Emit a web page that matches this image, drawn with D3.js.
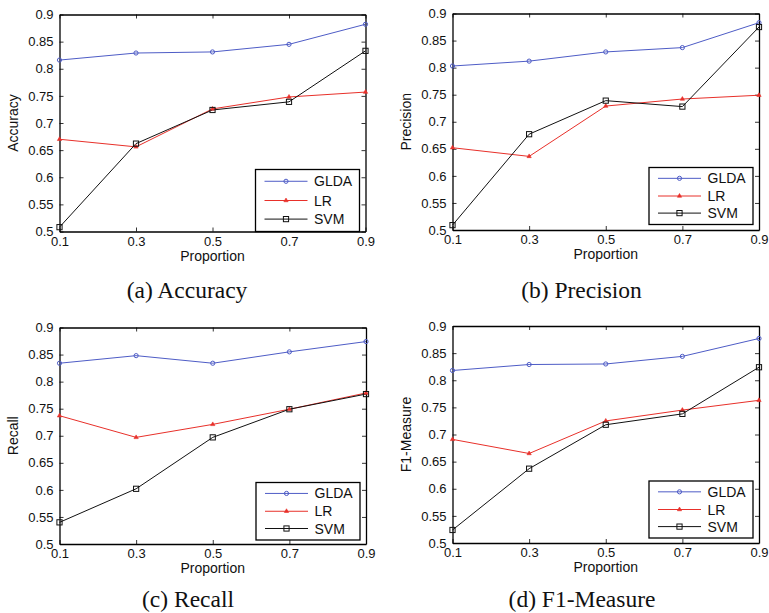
<!DOCTYPE html>
<html><head><meta charset="utf-8">
<script src="https://cdn.jsdelivr.net/npm/d3@7"></script>
<style>
body{margin:0;background:#fff;}
svg{display:block;}
.tick text{font-family:"Liberation Sans",Arial,sans-serif;font-size:13px;fill:#111;}
</style></head>
<body><svg id="c" width="769" height="613"></svg>
<script>
// ---- data ----
const proportions = [0.1, 0.3, 0.5, 0.7, 0.9];
const yTicks = [0.5, 0.55, 0.6, 0.65, 0.7, 0.75, 0.8, 0.85, 0.9];
const seriesNames = ["GLDA", "LR", "SVM"];
const metricNames = ["Accuracy", "Precision", "Recall", "F1-Measure"];
const captions = ["(a) Accuracy", "(b) Precision", "(c) Recall", "(d) F1-Measure"];
// rows: Accuracy, Precision, Recall, F1-Measure
const gldaValues = [
  [0.816, 0.829, 0.831, 0.845, 0.882],
  [0.803, 0.812, 0.829, 0.837, 0.883],
  [0.834, 0.848, 0.834, 0.855, 0.874],
  [0.818, 0.829, 0.830, 0.844, 0.877]
];
const lrValues = [
  [0.670, 0.656, 0.726, 0.748, 0.757],
  [0.652, 0.636, 0.729, 0.742, 0.749],
  [0.737, 0.697, 0.721, 0.749, 0.779],
  [0.691, 0.665, 0.725, 0.745, 0.763]
];
const svmValues = [
  [0.508, 0.662, 0.724, 0.739, 0.833],
  [0.509, 0.677, 0.739, 0.728, 0.875],
  [0.540, 0.602, 0.697, 0.749, 0.777],
  [0.524, 0.637, 0.718, 0.738, 0.824]
];

// ---- layout / style ----
const layout = [
  {left:59.5, right:365.5, top:14.5, bottom:231.5, legTop:169.5, legBottom:231.5, capX:187, capY:297.5},
  {left:452.5, right:759, top:13.5, bottom:230, legTop:167.5, legBottom:224.5, capX:581.5, capY:297.5},
  {left:59.5, right:366, top:327.5, bottom:544, legTop:482.5, legBottom:540, capX:188, capY:607},
  {left:452.5, right:759, top:326, bottom:543, legTop:481, legBottom:538, capX:582, capY:607}
];
const colors = {GLDA:"#4e5cc6", LR:"#e8302a", SVM:"#111111"};
const sans = '"Liberation Sans", Arial, sans-serif';
const serif = '"Liberation Serif", "Times New Roman", serif';

const svg = d3.select("#c");

function drawMarker(g, name, x, y) {
  const c = colors[name];
  if (name === "GLDA") {
    g.append("circle").attr("cx", x).attr("cy", y).attr("r", 2.1)
      .attr("fill", "none").attr("stroke", c).attr("stroke-width", 1);
  } else if (name === "LR") {
    g.append("path").attr("d", d3.symbol(d3.symbolTriangle, 8)())
      .attr("transform", `translate(${x},${y})`).attr("fill", c).attr("stroke", c).attr("stroke-width", 0.6);
  } else {
    g.append("rect").attr("x", x - 2.6).attr("y", y - 2.6).attr("width", 5.2).attr("height", 5.2)
      .attr("fill", "none").attr("stroke", c).attr("stroke-width", 1);
  }
}

metricNames.forEach((metric, i) => {
  const L = layout[i];
  const x = d3.scaleLinear().domain([0.1, 0.9]).range([L.left, L.right]);
  const y = d3.scaleLinear().domain([0.5, 0.9]).range([L.bottom, L.top]);
  const g = svg.append("g");

  const fmt = d => String(d);
  // axes (inward ticks, MATLAB box)
  g.append("g").attr("transform", `translate(${L.left},0)`)
    .call(d3.axisLeft(y).tickValues(yTicks).tickFormat(fmt).tickSizeInner(-4).tickSizeOuter(0).tickPadding(6));
  g.append("g").attr("transform", `translate(${L.right},0)`)
    .call(d3.axisRight(y).tickValues(yTicks).tickFormat("").tickSizeInner(-4).tickSizeOuter(0));
  g.append("g").attr("transform", `translate(0,${L.bottom})`)
    .call(d3.axisBottom(x).tickValues(proportions).tickFormat(fmt).tickSizeInner(-4).tickSizeOuter(0).tickPadding(5));
  g.append("g").attr("transform", `translate(0,${L.top})`)
    .call(d3.axisTop(x).tickValues(proportions).tickFormat("").tickSizeInner(-4).tickSizeOuter(0));
  g.selectAll(".domain").attr("stroke", "#000").attr("stroke-width", 1.3);
  g.selectAll(".tick line").attr("stroke", "#000").attr("stroke-width", 0.8);

  // axis titles
  g.append("text").attr("x", (L.left + L.right) / 2).attr("y", L.bottom + 29)
    .attr("text-anchor", "middle").attr("font-family", sans).attr("font-size", 14).attr("fill", "#111")
    .text("Proportion");
  g.append("text")
    .attr("transform", `translate(${L.left - 47},${(L.top + L.bottom) / 2}) rotate(-90)`)
    .attr("dy", "0.36em")
    .attr("text-anchor", "middle").attr("font-family", sans).attr("font-size", 14).attr("fill", "#111")
    .text(metric);

  // series
  const seriesData = {GLDA: gldaValues[i], LR: lrValues[i], SVM: svmValues[i]};
  const line = d3.line().x((d, k) => x(proportions[k])).y(d => y(d));
  seriesNames.forEach(name => {
    g.append("path").datum(seriesData[name]).attr("d", line)
      .attr("fill", "none").attr("stroke", colors[name]).attr("stroke-width", 1);
  });
  seriesNames.forEach(name => {
    seriesData[name].forEach((v, k) => drawMarker(g, name, x(proportions[k]), y(v)));
  });

  // legend
  const lw = 104, lx = L.right - 6 - lw, ly = L.legTop, lh = L.legBottom - L.legTop;
  g.append("rect").attr("x", lx).attr("y", ly).attr("width", lw).attr("height", lh)
    .attr("fill", "#fff").attr("stroke", "#000").attr("stroke-width", 1.3);
  const fr = [0.19, 0.5, 0.8];
  seriesNames.forEach((name, k) => {
    const yy = ly + lh * fr[k];
    g.append("line").attr("x1", lx + 9).attr("x2", lx + 52).attr("y1", yy).attr("y2", yy)
      .attr("stroke", colors[name]).attr("stroke-width", 1);
    drawMarker(g, name, lx + 30.5, yy);
    g.append("text").attr("x", lx + 58.5).attr("y", yy).attr("dy", "0.36em")
      .attr("font-family", sans).attr("font-size", 14).attr("fill", "#111").text(name);
  });

  // caption
  g.append("text").attr("x", L.capX).attr("y", L.capY).attr("text-anchor", "middle")
    .attr("font-family", serif).attr("font-size", 23.5).attr("fill", "#111").text(captions[i]);
});
</script></body></html>
